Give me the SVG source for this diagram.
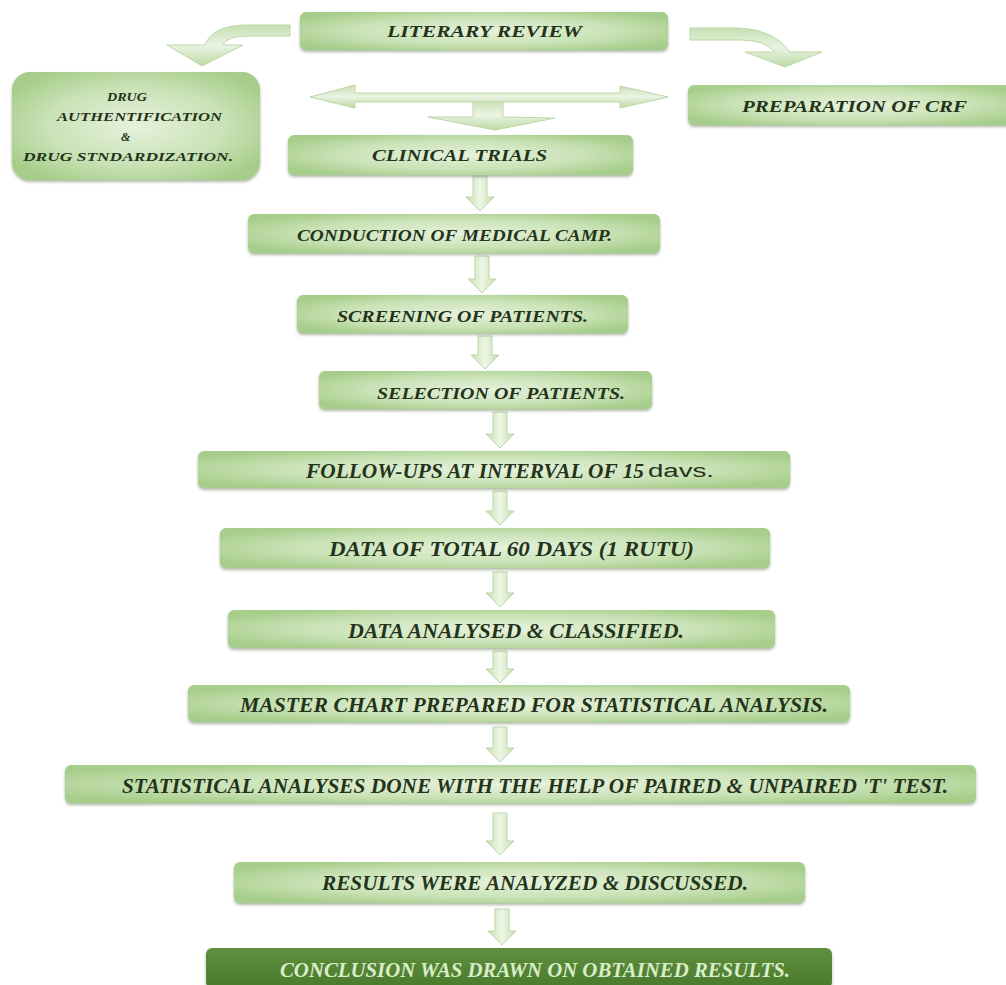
<svg xmlns="http://www.w3.org/2000/svg" width="1006" height="985" viewBox="0 0 1006 985">
<defs>
<radialGradient id="gbox" cx="0.5" cy="0.5" r="0.6">
<stop offset="0" stop-color="#e6f2dc"/>
<stop offset="0.6" stop-color="#c9e2b6"/>
<stop offset="1" stop-color="#a6cd8a"/>
</radialGradient>
<linearGradient id="garr" x1="0" y1="0" x2="1" y2="0">
<stop offset="0" stop-color="#c6e0b2"/>
<stop offset="0.5" stop-color="#edf6e6"/>
<stop offset="1" stop-color="#c6e0b2"/>
</linearGradient>
<linearGradient id="garrv" x1="0" y1="0" x2="0" y2="1">
<stop offset="0" stop-color="#c6e0b2"/>
<stop offset="0.5" stop-color="#eaf4e2"/>
<stop offset="1" stop-color="#bcd9a6"/>
</linearGradient>
<linearGradient id="gdark" x1="0" y1="0" x2="0" y2="1">
<stop offset="0" stop-color="#5f8f3e"/>
<stop offset="1" stop-color="#4a7a2b"/>
</linearGradient>
<filter id="sh" x="-5%" y="-20%" width="110%" height="150%">
<feDropShadow dx="0" dy="2" stdDeviation="1.5" flood-color="#6b7f5c" flood-opacity="0.55"/>
</filter>
</defs>
<style>
.box{fill:url(#gbox);filter:url(#sh)}
.dark{fill:url(#gdark);filter:url(#sh)}
.t{font-family:"Liberation Serif",serif;font-weight:bold;font-style:italic;fill:#24331a;text-anchor:start;dominant-baseline:central}
.tl{font-size:17px}
.ts{font-size:12px}
.tc{font-size:20px}
.tw{fill:#d9edc9}
.arr{fill:url(#garr);stroke:#bcd7a7;stroke-width:1}
.arrh{fill:url(#garrv);stroke:#bcd7a7;stroke-width:1}
</style>
<rect width="1006" height="985" fill="#ffffff"/>

<g id="connectors">
<path class="arrh" d="M 290 25 L 245 25 Q 212 26 205 45 L 167 45 L 202 66 L 243 45 L 222 45 Q 228 36 248 36 L 290 36 Z"/>
<path class="arrh" d="M 690 28 L 740 28 Q 775 30 790 52 L 822 52 L 785 67 L 745 52 L 775 52 Q 765 40 740 40 L 690 40 Z"/>
<path class="arrh" d="M 473 100 L 503 100 L 503 117 L 555 118 L 495 130 L 428 117 L 473 117 Z"/>
<path class="arrh" d="M 310 97 L 355 85 L 355 93 L 620 93 L 620 86 L 668 97 L 620 108 L 620 102 L 355 102 L 355 108 Z"/>
<path class="arr" d="M 473 176 L 487 176 L 487 197 L 494 197 L 480 211 L 466 197 L 473 197 Z"/>
<path class="arr" d="M 475 256 L 489 256 L 489 279 L 496 279 L 482 293 L 468 279 L 475 279 Z"/>
<path class="arr" d="M 478 336 L 492 336 L 492 355 L 499 355 L 485 369 L 471 355 L 478 355 Z"/>
<path class="arr" d="M 493 412 L 507 412 L 507 434 L 514 434 L 500 448 L 486 434 L 493 434 Z"/>
<path class="arr" d="M 493 491 L 507 491 L 507 511 L 514 511 L 500 525 L 486 511 L 493 511 Z"/>
<path class="arr" d="M 493 572 L 507 572 L 507 593 L 514 593 L 500 607 L 486 593 L 493 593 Z"/>
<path class="arr" d="M 493 651 L 507 651 L 507 669 L 514 669 L 500 683 L 486 669 L 493 669 Z"/>
<path class="arr" d="M 493 727 L 507 727 L 507 748 L 514 748 L 500 762 L 486 748 L 493 748 Z"/>
<path class="arr" d="M 493 813 L 507 813 L 507 841 L 514 841 L 500 855 L 486 841 L 493 841 Z"/>
<path class="arr" d="M 495 909 L 509 909 L 509 931 L 516 931 L 502 945 L 488 931 L 495 931 Z"/>
</g>

<g id="literary-review">
<rect class="box" x="300" y="12" width="368" height="38" rx="6"/>
<text class="t tl" x="387" y="31" textLength="195" lengthAdjust="spacingAndGlyphs">LITERARY REVIEW</text>
</g>
<g id="drug">
<rect class="box" x="12" y="72" width="248" height="108" rx="18"/>
<text class="t ts" x="107" y="97" textLength="40" lengthAdjust="spacingAndGlyphs">DRUG</text>
<text class="t ts" x="57" y="117" textLength="165" lengthAdjust="spacingAndGlyphs">AUTHENTIFICATION</text>
<text class="t ts" x="121" y="137">&amp;</text>
<text class="t ts" x="23" y="157" textLength="210" lengthAdjust="spacingAndGlyphs">DRUG STNDARDIZATION.</text>
</g>
<g id="crf">
<rect class="box" x="688" y="85" width="330" height="40" rx="6"/>
<text class="t tl" x="742" y="106" textLength="225" lengthAdjust="spacingAndGlyphs">PREPARATION OF CRF</text>
</g>
<g id="clinical-trials">
<rect class="box" x="288" y="135" width="345" height="40" rx="6"/>
<text class="t tl" x="372" y="155" textLength="175" lengthAdjust="spacingAndGlyphs">CLINICAL TRIALS</text>
</g>
<g id="medical-camp">
<rect class="box" x="248" y="214" width="412" height="39" rx="6"/>
<text class="t tl" x="297" y="235" textLength="315" lengthAdjust="spacingAndGlyphs">CONDUCTION OF MEDICAL CAMP.</text>
</g>
<g id="screening">
<rect class="box" x="297" y="295" width="331" height="38" rx="6"/>
<text class="t tl" x="337" y="316" textLength="251" lengthAdjust="spacingAndGlyphs">SCREENING OF PATIENTS.</text>
</g>
<g id="selection">
<rect class="box" x="319" y="371" width="333" height="38" rx="6"/>
<text class="t tl" x="377" y="393" textLength="248" lengthAdjust="spacingAndGlyphs">SELECTION OF PATIENTS.</text>
</g>
<g id="follow-ups">
<rect class="box" x="198" y="451" width="592" height="37" rx="6"/>
<text class="t tc" x="306" y="471" textLength="338" lengthAdjust="spacingAndGlyphs">FOLLOW-UPS AT INTERVAL OF 15</text>
<text x="648" y="471" font-family="Liberation Sans, sans-serif" font-size="18" fill="#24331a" dominant-baseline="central" textLength="66" lengthAdjust="spacingAndGlyphs">davs.</text>
</g>
<g id="data-total">
<rect class="box" x="220" y="528" width="550" height="40" rx="6"/>
<text class="t tc" x="329" y="549" textLength="365" lengthAdjust="spacingAndGlyphs">DATA OF TOTAL 60 DAYS (1 RUTU)</text>
</g>
<g id="data-analysed">
<rect class="box" x="228" y="610" width="547" height="38" rx="6"/>
<text class="t tc" x="348" y="631" textLength="336" lengthAdjust="spacingAndGlyphs">DATA ANALYSED &amp; CLASSIFIED.</text>
</g>
<g id="master-chart">
<rect class="box" x="188" y="685" width="662" height="37" rx="6"/>
<text class="t tc" x="240" y="705" textLength="588" lengthAdjust="spacingAndGlyphs">MASTER CHART PREPARED FOR STATISTICAL ANALYSIS.</text>
</g>
<g id="statistical">
<rect class="box" x="65" y="765" width="911" height="38" rx="6"/>
<text class="t tc" x="122" y="786" textLength="826" lengthAdjust="spacingAndGlyphs">STATISTICAL ANALYSES DONE WITH THE HELP OF PAIRED &amp; UNPAIRED 'T' TEST.</text>
</g>
<g id="results">
<rect class="box" x="234" y="862" width="571" height="41" rx="6"/>
<text class="t tc" x="322" y="883" textLength="426" lengthAdjust="spacingAndGlyphs">RESULTS WERE ANALYZED &amp; DISCUSSED.</text>
</g>
<g id="conclusion">
<rect class="dark" x="206" y="948" width="626" height="40" rx="6"/>
<text class="t tc tw" x="280" y="970" textLength="510" lengthAdjust="spacingAndGlyphs">CONCLUSION WAS DRAWN ON OBTAINED RESULTS.</text>
</g>
</svg>
